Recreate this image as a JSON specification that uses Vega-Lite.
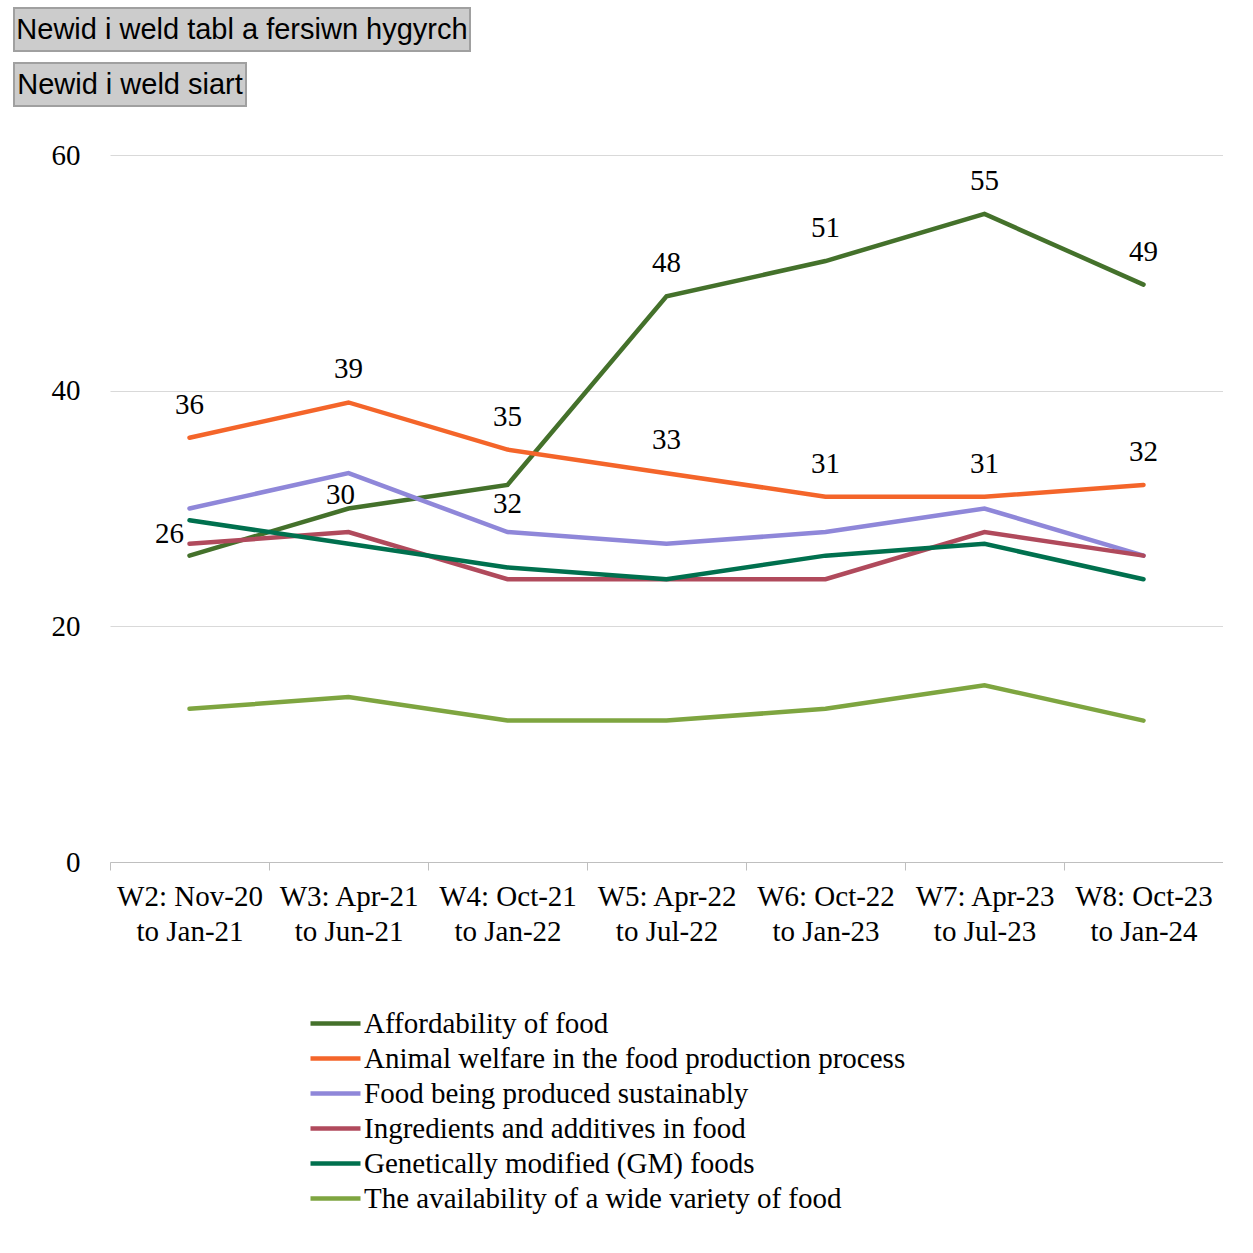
{
  "$schema": "https://vega.github.io/schema/vega-lite/v6.json",
  "padding": {"left": 13, "top": 7, "right": 0, "bottom": 0},
  "background": "white",
  "spacing": 34,
  "vconcat": [
    {
      "spacing": 10,
      "vconcat": [
        {
          "width": 456,
          "height": 43,
          "view": {"fill": "#cccccc", "stroke": "#a0a0a0", "strokeWidth": 2},
          "data": {"values": [{"label": "Newid i weld tabl a fersiwn hygyrch"}]},
          "mark": {"type": "text", "font": "Liberation Sans", "fontSize": 29, "color": "black", "baseline": "middle"},
          "encoding": {"text": {"field": "label", "type": "nominal"}}
        },
        {
          "width": 232,
          "height": 43,
          "view": {"fill": "#cccccc", "stroke": "#a0a0a0", "strokeWidth": 2},
          "data": {"values": [{"label": "Newid i weld siart"}]},
          "mark": {"type": "text", "font": "Liberation Sans", "fontSize": 29, "color": "black", "baseline": "middle"},
          "encoding": {"text": {"field": "label", "type": "nominal"}}
        }
      ]
    },
    {
      "spacing": 0,
      "hconcat": [
        {
          "width": 1,
          "height": 1,
          "view": {"stroke": null},
          "data": {"values": [{"label": ""}]},
          "mark": {"type": "text", "color": "white"},
          "encoding": {"text": {"field": "label", "type": "nominal"}}
        },
        {
          "width": 1113,
          "height": 707,
          "view": {"stroke": null},
          "data": {
            "values": [
              {"wave": "W2: Nov-20 to Jan-21", "series": "Affordability of food", "value": 26},
              {"wave": "W3: Apr-21 to Jun-21", "series": "Affordability of food", "value": 30},
              {"wave": "W4: Oct-21 to Jan-22", "series": "Affordability of food", "value": 32},
              {"wave": "W5: Apr-22 to Jul-22", "series": "Affordability of food", "value": 48},
              {"wave": "W6: Oct-22 to Jan-23", "series": "Affordability of food", "value": 51},
              {"wave": "W7: Apr-23 to Jul-23", "series": "Affordability of food", "value": 55},
              {"wave": "W8: Oct-23 to Jan-24", "series": "Affordability of food", "value": 49},
              {"wave": "W2: Nov-20 to Jan-21", "series": "Animal welfare in the food production process", "value": 36},
              {"wave": "W3: Apr-21 to Jun-21", "series": "Animal welfare in the food production process", "value": 39},
              {"wave": "W4: Oct-21 to Jan-22", "series": "Animal welfare in the food production process", "value": 35},
              {"wave": "W5: Apr-22 to Jul-22", "series": "Animal welfare in the food production process", "value": 33},
              {"wave": "W6: Oct-22 to Jan-23", "series": "Animal welfare in the food production process", "value": 31},
              {"wave": "W7: Apr-23 to Jul-23", "series": "Animal welfare in the food production process", "value": 31},
              {"wave": "W8: Oct-23 to Jan-24", "series": "Animal welfare in the food production process", "value": 32},
              {"wave": "W2: Nov-20 to Jan-21", "series": "Food being produced sustainably", "value": 30},
              {"wave": "W3: Apr-21 to Jun-21", "series": "Food being produced sustainably", "value": 33},
              {"wave": "W4: Oct-21 to Jan-22", "series": "Food being produced sustainably", "value": 28},
              {"wave": "W5: Apr-22 to Jul-22", "series": "Food being produced sustainably", "value": 27},
              {"wave": "W6: Oct-22 to Jan-23", "series": "Food being produced sustainably", "value": 28},
              {"wave": "W7: Apr-23 to Jul-23", "series": "Food being produced sustainably", "value": 30},
              {"wave": "W8: Oct-23 to Jan-24", "series": "Food being produced sustainably", "value": 26},
              {"wave": "W2: Nov-20 to Jan-21", "series": "Ingredients and additives in food", "value": 27},
              {"wave": "W3: Apr-21 to Jun-21", "series": "Ingredients and additives in food", "value": 28},
              {"wave": "W4: Oct-21 to Jan-22", "series": "Ingredients and additives in food", "value": 24},
              {"wave": "W5: Apr-22 to Jul-22", "series": "Ingredients and additives in food", "value": 24},
              {"wave": "W6: Oct-22 to Jan-23", "series": "Ingredients and additives in food", "value": 24},
              {"wave": "W7: Apr-23 to Jul-23", "series": "Ingredients and additives in food", "value": 28},
              {"wave": "W8: Oct-23 to Jan-24", "series": "Ingredients and additives in food", "value": 26},
              {"wave": "W2: Nov-20 to Jan-21", "series": "Genetically modified (GM) foods", "value": 29},
              {"wave": "W3: Apr-21 to Jun-21", "series": "Genetically modified (GM) foods", "value": 27},
              {"wave": "W4: Oct-21 to Jan-22", "series": "Genetically modified (GM) foods", "value": 25},
              {"wave": "W5: Apr-22 to Jul-22", "series": "Genetically modified (GM) foods", "value": 24},
              {"wave": "W6: Oct-22 to Jan-23", "series": "Genetically modified (GM) foods", "value": 26},
              {"wave": "W7: Apr-23 to Jul-23", "series": "Genetically modified (GM) foods", "value": 27},
              {"wave": "W8: Oct-23 to Jan-24", "series": "Genetically modified (GM) foods", "value": 24},
              {"wave": "W2: Nov-20 to Jan-21", "series": "The availability of a wide variety of food", "value": 13},
              {"wave": "W3: Apr-21 to Jun-21", "series": "The availability of a wide variety of food", "value": 14},
              {"wave": "W4: Oct-21 to Jan-22", "series": "The availability of a wide variety of food", "value": 12},
              {"wave": "W5: Apr-22 to Jul-22", "series": "The availability of a wide variety of food", "value": 12},
              {"wave": "W6: Oct-22 to Jan-23", "series": "The availability of a wide variety of food", "value": 13},
              {"wave": "W7: Apr-23 to Jul-23", "series": "The availability of a wide variety of food", "value": 15},
              {"wave": "W8: Oct-23 to Jan-24", "series": "The availability of a wide variety of food", "value": 12}
            ]
          },
          "encoding": {
            "x": {
              "field": "wave",
              "type": "nominal",
              "sort": null,
              "scale": {"type": "point", "padding": 0.5},
              "axis": {
                "title": null,
                "labelAngle": 0,
                "domainColor": "#bfbfbf",
                "tickColor": "#bfbfbf",
                "tickSize": 8,
                "tickOffset": -79.5,
                "labelOffset": 79.5,
                "labelPadding": 12,
                "labelLineHeight": 35,
                "labelExpr": "[substring(datum.value, 0, indexof(datum.value, ' to ')), substring(datum.value, indexof(datum.value, ' to ') + 1)]"
              }
            },
            "y": {
              "field": "value",
              "type": "quantitative",
              "scale": {"domain": [0, 60], "nice": false, "zero": true},
              "axis": {
                "title": null,
                "values": [0, 20, 40, 60],
                "domain": false,
                "ticks": false,
                "grid": true,
                "gridColor": "#d9d9d9",
                "labelPadding": 30,
                "minExtent": 95
              }
            }
          },
          "layer": [
            {
              "mark": {"type": "line", "strokeWidth": 4.5, "strokeCap": "round"},
              "encoding": {
                "color": {
                  "field": "series",
                  "type": "nominal",
                  "sort": null,
                  "scale": {
                    "domain": ["Affordability of food", "Animal welfare in the food production process", "Food being produced sustainably", "Ingredients and additives in food", "Genetically modified (GM) foods", "The availability of a wide variety of food"],
                    "range": ["#44712b", "#f4652a", "#8f87d9", "#b04a5c", "#00704e", "#7ea540"]
                  },
                  "legend": {
                    "title": null,
                    "orient": "none",
                    "legendX": 307,
                    "legendY": 1001,
                    "direction": "vertical",
                    "symbolType": "M-2.5,0H2.5",
                    "symbolSize": 400,
                    "symbolStrokeWidth": 4.5,
                    "labelOffset": 14,
                    "rowPadding": 5,
                    "labelFont": "Liberation Serif",
                    "labelFontSize": 29,
                    "labelColor": "black",
                    "labelLimit": 1000
                  }
                }
              }
            },
            {
              "transform": [{"filter": "(datum.series === 'Affordability of food' && indexof(['W5: Apr-22 to Jul-22','W6: Oct-22 to Jan-23','W7: Apr-23 to Jul-23','W8: Oct-23 to Jan-24'], datum.wave) >= 0) || datum.series === 'Animal welfare in the food production process'"}],
              "mark": {"type": "text", "font": "Liberation Serif", "fontSize": 29, "color": "black", "dy": -33, "baseline": "middle"},
              "encoding": {"text": {"field": "value", "type": "quantitative"}}
            },
            {
              "transform": [{"filter": "datum.series === 'Affordability of food' && datum.wave === 'W2: Nov-20 to Jan-21'"}],
              "mark": {"type": "text", "font": "Liberation Serif", "fontSize": 29, "color": "black", "dx": -20, "dy": -22, "baseline": "middle"},
              "encoding": {"text": {"field": "value", "type": "quantitative"}}
            },
            {
              "transform": [{"filter": "datum.series === 'Affordability of food' && datum.wave === 'W3: Apr-21 to Jun-21'"}],
              "mark": {"type": "text", "font": "Liberation Serif", "fontSize": 29, "color": "black", "dx": -8, "dy": -14, "baseline": "middle"},
              "encoding": {"text": {"field": "value", "type": "quantitative"}}
            },
            {
              "transform": [{"filter": "datum.series === 'Affordability of food' && datum.wave === 'W4: Oct-21 to Jan-22'"}],
              "mark": {"type": "text", "font": "Liberation Serif", "fontSize": 29, "color": "black", "dy": 19, "baseline": "middle"},
              "encoding": {"text": {"field": "value", "type": "quantitative"}}
            }
          ]
        }
      ]
    }
  ],
  "config": {
    "axis": {
      "labelFont": "Liberation Serif",
      "labelFontSize": 29,
      "labelColor": "black"
    },
    "legend": {"labelFont": "Liberation Serif"}
  }
}
